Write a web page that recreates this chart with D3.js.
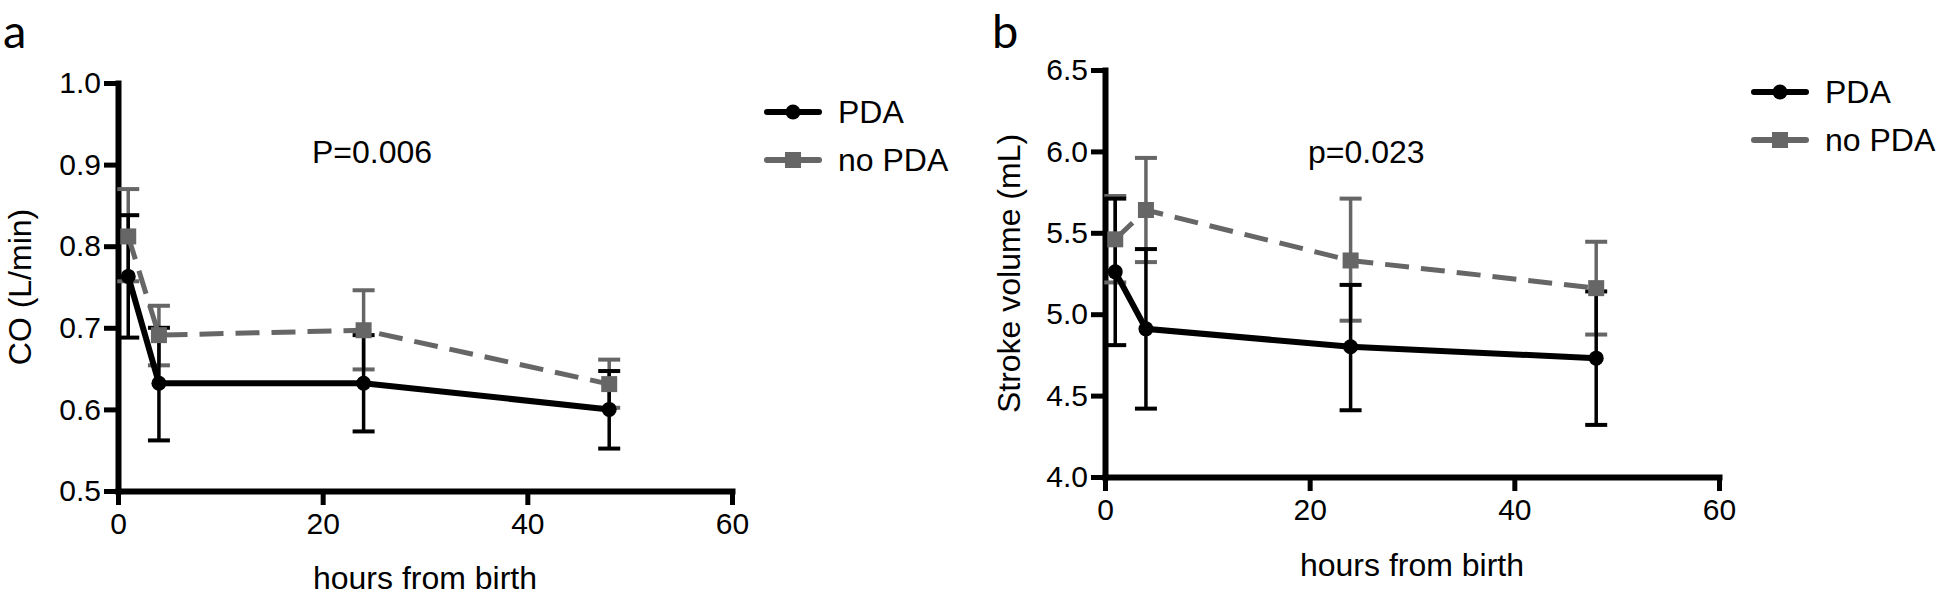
<!DOCTYPE html>
<html><head><meta charset="utf-8">
<script src="https://cdn.jsdelivr.net/npm/d3@7"></script>
<style>
body{margin:0;background:#fff}
svg{display:block;background:#fff}
text{font-family:"Liberation Sans",Arial,Helvetica,sans-serif;fill:#000}
</style>
</head><body>
<svg id="c" width="1946" height="596"></svg>
<script>
// ---- data ----
const hours = [1, 4, 24, 48];
const xTicks = [0, 20, 40, 60];

// Panel a: cardiac output (L/min)
const coTicks = [0.5, 0.6, 0.7, 0.8, 0.9, 1.0];
const coPDA = [0.763, 0.632, 0.632, 0.600];
const coPDALow = [0.688, 0.562, 0.573, 0.552];
const coPDAHigh = [0.838, 0.700, 0.691, 0.647];
const coNoPDA = [0.812, 0.691, 0.697, 0.631];
const coNoPDALow = [0.757, 0.654, 0.649, 0.602];
const coNoPDAHigh = [0.870, 0.727, 0.746, 0.661];

// Panel b: stroke volume (mL)
const svTicks = [4.0, 4.5, 5.0, 5.5, 6.0, 6.5];
const svPDA = [5.26, 4.91, 4.80, 4.73];
const svPDALow = [4.81, 4.42, 4.41, 4.32];
const svPDAHigh = [5.71, 5.40, 5.18, 5.14];
const svNoPDA = [5.46, 5.64, 5.33, 5.16];
const svNoPDALow = [5.195, 5.32, 4.96, 4.875];
const svNoPDAHigh = [5.726, 5.96, 5.71, 5.445];

const seriesNames = ["PDA", "no PDA"];
const BLACK = "#000";
const GRAY = "#666";

const svg = d3.select("#c");

function drawPanel(o) {
  const x = d3.scaleLinear().domain([0, 60]).range([o.x0, o.x1]);
  const y = d3.scaleLinear().domain(o.yDomain).range([o.yBottom, o.yTop]);
  const g = svg.append("g");

  // axes
  const xa = g.append("g").attr("transform", `translate(0,${o.yBottom})`)
    .call(d3.axisBottom(x).tickValues(xTicks).tickSize(14).tickSizeOuter(0).tickPadding(8).tickFormat(d3.format("d")));
  const ya = g.append("g").attr("transform", `translate(${o.x0},0)`)
    .call(d3.axisLeft(y).tickValues(o.yTicks).tickSize(14).tickSizeOuter(0).tickPadding(3).tickFormat(d3.format(".1f")));
  [xa, ya].forEach(a => {
    a.select(".domain").attr("stroke", "#000").attr("stroke-width", 6).attr("stroke-linecap", "square");
    a.selectAll(".tick line").attr("stroke", "#000").attr("stroke-width", 5);
    a.selectAll(".tick text").attr("font-size", 30).attr("font-family", "Liberation Sans, Arial, sans-serif").attr("fill", "#000");
  });

  // axis titles
  g.append("text").attr("x", (o.x0 + o.x1) / 2).attr("y", o.xTitleY)
    .attr("text-anchor", "middle").attr("font-size", 32).text("hours from birth");
  g.append("text").attr("transform", `translate(${o.yTitleX},${(o.yTop + o.yBottom) / 2}) rotate(-90)`)
    .attr("text-anchor", "middle").attr("font-size", 32).text(o.yTitle);

  // p-value
  g.append("text").attr("x", o.pX).attr("y", o.pY).attr("font-size", 32).text(o.pText);

  const series = [
    {name: seriesNames[1], vals: o.noPDA, lo: o.noPDALow, hi: o.noPDAHigh, color: GRAY, dash: "24,12", shape: "square"},
    {name: seriesNames[0], vals: o.pda, lo: o.pdaLow, hi: o.pdaHigh, color: BLACK, dash: null, shape: "circle"}
  ];

  // error bars
  series.forEach(s => {
    const eg = g.append("g");
    hours.forEach((h, i) => {
      eg.append("line").attr("x1", x(h)).attr("x2", x(h)).attr("y1", y(s.lo[i])).attr("y2", y(s.hi[i]))
        .attr("stroke", s.color).attr("stroke-width", 3.5);
      [s.lo[i], s.hi[i]].forEach(v => {
        eg.append("line").attr("x1", x(h) - 11).attr("x2", x(h) + 11).attr("y1", y(v)).attr("y2", y(v))
          .attr("stroke", s.color).attr("stroke-width", 4);
      });
    });
  });

  // lines
  const line = d3.line().x((d, i) => x(hours[i])).y(d => y(d));
  [series[1], series[0]].forEach(s => {
    g.append("path").datum(s.vals).attr("d", line).attr("fill", "none")
      .attr("stroke", s.color).attr("stroke-width", s.dash ? 5 : 6)
      .attr("stroke-dasharray", s.dash);
  });

  // markers
  [series[1], series[0]].forEach(s => {
    s.vals.forEach((v, i) => {
      if (s.shape === "circle") {
        g.append("circle").attr("cx", x(hours[i])).attr("cy", y(v)).attr("r", 7.5).attr("fill", s.color);
      } else {
        g.append("rect").attr("x", x(hours[i]) - 8).attr("y", y(v) - 8).attr("width", 16).attr("height", 16).attr("fill", s.color);
      }
    });
  });

  // legend
  [series[1], series[0]].forEach((s, k) => {
    const ly = o.legY + k * 48;
    g.append("line").attr("x1", o.legX).attr("x2", o.legX + 52).attr("y1", ly).attr("y2", ly)
      .attr("stroke", s.color).attr("stroke-width", 6).attr("stroke-linecap", "round");
    if (s.shape === "circle") {
      g.append("circle").attr("cx", o.legX + 26).attr("cy", ly).attr("r", 7.5).attr("fill", s.color);
    } else {
      g.append("rect").attr("x", o.legX + 18).attr("y", ly - 8).attr("width", 16).attr("height", 16).attr("fill", s.color);
    }
    g.append("text").attr("x", o.legX + 71).attr("y", ly).attr("dy", "0.35em").attr("font-size", 32).text(s.name);
  });

  // panel letter
  svg.append("text").attr("x", o.letterX).attr("y", 48).attr("font-size", 47)
    .style("font-family", "Lato,'Open Sans',sans-serif").text(o.letter);
}

drawPanel({
  letter: "a", letterX: 3,
  x0: 118, x1: 732, yTop: 83, yBottom: 491, yDomain: [0.5, 1.0], yTicks: coTicks,
  yTitle: "CO (L/min)", yTitleX: 31, xTitleY: 589,
  pText: "P=0.006", pX: 312, pY: 163,
  pda: coPDA, pdaLow: coPDALow, pdaHigh: coPDAHigh,
  noPDA: coNoPDA, noPDALow: coNoPDALow, noPDAHigh: coNoPDAHigh,
  legX: 767, legY: 112
});

drawPanel({
  letter: "b", letterX: 992,
  x0: 1105, x1: 1719, yTop: 70, yBottom: 477, yDomain: [4.0, 6.5], yTicks: svTicks,
  yTitle: "Stroke volume (mL)", yTitleX: 1020, xTitleY: 576,
  pText: "p=0.023", pX: 1308, pY: 163,
  pda: svPDA, pdaLow: svPDALow, pdaHigh: svPDAHigh,
  noPDA: svNoPDA, noPDALow: svNoPDALow, noPDAHigh: svNoPDAHigh,
  legX: 1754, legY: 92
});
</script>
</body></html>
